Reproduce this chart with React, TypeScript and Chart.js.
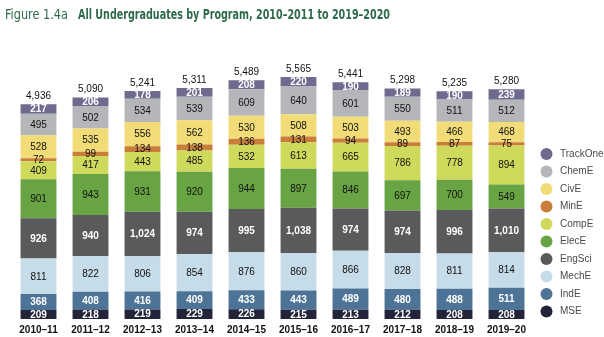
import React, { useEffect, useRef } from "react";
import { Chart, registerables } from "chart.js";

Chart.register(...registerables);

const categories = ["2010–11", "2011–12", "2012–13", "2013–14", "2014–15", "2015–16", "2016–17", "2017–18", "2018–19", "2019–20"];
const MSE = [209, 218, 219, 229, 226, 215, 213, 212, 208, 208];
const IndE = [368, 408, 416, 409, 433, 443, 489, 480, 488, 511];
const MechE = [811, 822, 806, 854, 876, 860, 866, 828, 811, 814];
const EngSci = [926, 940, 1024, 974, 995, 1038, 974, 974, 996, 1010];
const ElecE = [901, 943, 931, 920, 944, 897, 846, 697, 700, 549];
const CompE = [409, 417, 443, 485, 532, 613, 665, 786, 778, 894];
const MinE = [72, 99, 134, 138, 136, 131, 94, 89, 87, 75];
const CivE = [528, 535, 556, 562, 530, 508, 503, 493, 466, 468];
const ChemE = [495, 502, 534, 539, 609, 640, 601, 550, 511, 512];
const TrackOne = [217, 206, 178, 201, 208, 220, 190, 189, 190, 239];
const totals = [4936, 5090, 5241, 5311, 5489, 5565, 5441, 5298, 5235, 5280];

const seriesNames = ["MSE", "IndE", "MechE", "EngSci", "ElecE", "CompE", "MinE", "CivE", "ChemE", "TrackOne"];
const seriesValues = [MSE, IndE, MechE, EngSci, ElecE, CompE, MinE, CivE, ChemE, TrackOne];
const seriesColors = ["#23233a", "#4d7396", "#c6dde9", "#5a5a5c", "#68a443", "#cfd95b", "#c97f3a", "#f2dc78", "#b5b6b9", "#6e6b8f"];
const whiteLabel = [true, true, false, true, false, false, false, false, false, true];

const fmt = (v: number) => v.toLocaleString("en-US");

export default function App() {
  const ref = useRef<HTMLCanvasElement | null>(null);
  useEffect(() => {
    document.body.style.margin = "0";
    const canvas = ref.current!;
    const labelPlugin = {
      id: "segLabels",
      afterDatasetsDraw(chart: any) {
        const ctx = chart.ctx;
        ctx.save();
        ctx.textAlign = "center";
        ctx.textBaseline = "middle";
        chart.data.datasets.forEach((ds: any, di: number) => {
          const meta = chart.getDatasetMeta(di);
          meta.data.forEach((bar: any, i: number) => {
            const yc = (bar.y + bar.base) / 2;
            ctx.fillStyle = whiteLabel[di] ? "#ffffff" : "#111111";
            ctx.font = (whiteLabel[di] ? "bold " : "") + "10px 'Liberation Sans', Arial, sans-serif";
            ctx.fillText(fmt(ds.data[i]), bar.x, yc + 0.5);
          });
        });
        const topMeta = chart.getDatasetMeta(chart.data.datasets.length - 1);
        ctx.fillStyle = "#111111";
        ctx.font = "10px 'Liberation Sans', Arial, sans-serif";
        topMeta.data.forEach((bar: any, i: number) => {
          ctx.fillText(fmt(totals[i]), bar.x, bar.y - 8);
        });
        // legend
        for (let k = 0; k < seriesNames.length; k++) {
          const idx = seriesNames.length - 1 - k;
          const cy = 154 + k * 17.5;
          ctx.beginPath();
          ctx.fillStyle = seriesColors[idx];
          ctx.arc(546.5, cy, 6, 0, Math.PI * 2);
          ctx.fill();
          ctx.fillStyle = "#4a4a4a";
          ctx.textAlign = "left";
          ctx.font = "10px 'Liberation Sans', Arial, sans-serif";
          ctx.fillText(seriesNames[idx], 560, cy);
        }
        // title
        ctx.textAlign = "left";
        ctx.textBaseline = "alphabetic";
        ctx.fillStyle = "#2e6a4c";
        ctx.font = "14px 'Liberation Sans Narrow', 'DejaVu Sans Condensed', sans-serif";
        ctx.fillText("Figure 1.4a", 5, 19, 63);
        ctx.font = "bold 14px 'Liberation Sans Narrow', 'DejaVu Sans Condensed', sans-serif";
        ctx.fillText("All Undergraduates by Program, 2010–2011 to 2019–2020", 78, 19, 312);
        ctx.restore();
      },
    };
    const chart = new Chart(canvas, {
      type: "bar",
      data: {
        labels: categories,
        datasets: seriesNames.map((n, i) => ({
          label: n,
          data: seriesValues[i],
          backgroundColor: seriesColors[i],
          borderWidth: 0,
          barPercentage: 0.69,
          categoryPercentage: 1,
        })),
      },
      options: {
        animation: false,
        responsive: false,
        maintainAspectRatio: false,
        layout: { padding: { left: 12.5, right: 71.5, top: 58, bottom: -4 } },
        plugins: { legend: { display: false }, tooltip: { enabled: false }, title: { display: false } },
        scales: {
          x: {
            stacked: true,
            grid: { display: false, drawTicks: false },
            border: { display: false },
            ticks: {
              color: "#111111",
              font: { family: "'Liberation Sans', Arial, sans-serif", size: 10, weight: "bold", lineHeight: 1 },
              padding: 6,
              maxRotation: 0,
            },
          },
          y: { stacked: true, display: false, min: 0, max: 6000 },
        },
      },
      plugins: [labelPlugin],
    });
    return () => chart.destroy();
  }, []);
  return (
    <div style={{ width: 604, height: 337, background: "#ffffff" }}>
      <canvas ref={ref} width={604} height={337} style={{ display: "block" }} />
    </div>
  );
}
